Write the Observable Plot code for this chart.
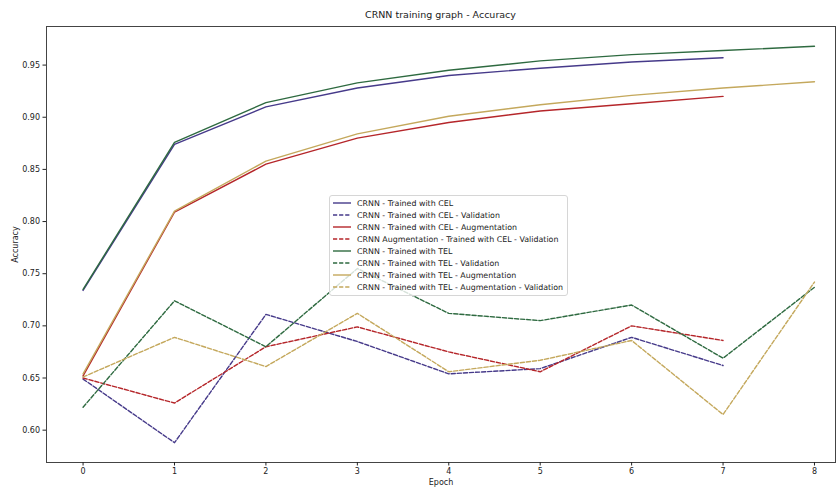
<!DOCTYPE html>
<html>
<head>
<meta charset="utf-8">
<script src="https://cdn.jsdelivr.net/npm/d3@7"></script>
<script src="https://cdn.jsdelivr.net/npm/@observablehq/plot@0.6"></script>
<style>
  html, body { margin: 0; padding: 0; background: #fff; }
  body { font-family: "DejaVu Sans", sans-serif; }
  #wrap { position: relative; width: 839px; height: 487px; overflow: hidden; }
  #title { position: absolute; left: 46px; width: 789px; top: 9px; text-align: center; font-size: 9.5px; color: #222; }
  #legend { position: absolute; left: 329px; top: 195px; padding: 1px 4px 2px 3px; background: rgba(255,255,255,0.8);
            border: 1px solid #d6d6d6; border-radius: 3px; font-size: 7.9px; color: #222; }
  .row { display: flex; align-items: center; height: 12.05px; white-space: nowrap; }
  .row svg { margin-right: 6px; }
</style>
</head>
<body>
<div id="wrap"></div>
<script>
const epochs = [0, 1, 2, 3, 4, 5, 6, 7, 8];
const seriesNames = [
  "CRNN - Trained with CEL",
  "CRNN - Trained with CEL - Validation",
  "CRNN - Trained with CEL - Augmentation",
  "CRNN Augmentation - Trained with CEL - Validation",
  "CRNN - Trained with TEL",
  "CRNN - Trained with TEL - Validation",
  "CRNN - Trained with TEL - Augmentation",
  "CRNN - Trained with TEL - Augmentation - Validation"
];
const seriesColors = ["#463a8a", "#463a8a", "#b5262a", "#b5262a", "#2e6a40", "#2e6a40", "#c4a85c", "#c4a85c"];
const seriesDashed = [false, true, false, true, false, true, false, true];

const celTrain      = [0.734, 0.874, 0.910, 0.928, 0.940, 0.947, 0.953, 0.957];
const celVal        = [0.649, 0.588, 0.711, 0.685, 0.654, 0.659, 0.689, 0.662];
const celAugTrain   = [0.652, 0.809, 0.855, 0.880, 0.895, 0.906, 0.913, 0.920];
const celAugVal     = [0.650, 0.626, 0.680, 0.699, 0.675, 0.656, 0.700, 0.686];
const telTrain      = [0.735, 0.876, 0.914, 0.933, 0.945, 0.954, 0.960, 0.964, 0.968];
const telVal        = [0.622, 0.724, 0.680, 0.755, 0.712, 0.705, 0.720, 0.669, 0.737];
const telAugTrain   = [0.654, 0.810, 0.858, 0.884, 0.901, 0.912, 0.921, 0.928, 0.934];
const telAugVal     = [0.651, 0.689, 0.661, 0.712, 0.656, 0.667, 0.686, 0.615, 0.742];

const yTicks = [0.60, 0.65, 0.70, 0.75, 0.80, 0.85, 0.90, 0.95];
const xTicks = [0, 1, 2, 3, 4, 5, 6, 7, 8];

const allValues = [celTrain, celVal, celAugTrain, celAugVal, telTrain, telVal, telAugTrain, telAugVal];
const table = [];
allValues.forEach((vals, i) => vals.forEach((v, j) => table.push({series: seriesNames[i], epoch: epochs[j], acc: v})));

const lineMarks = seriesNames.map((name, i) =>
  Plot.line(table.filter(d => d.series === name), {
    x: "epoch", y: "acc", stroke: "series",
    strokeWidth: 1.4,
    strokeDasharray: seriesDashed[i] ? "4.2,1.9" : null
  })
);

const chart = Plot.plot({
  width: 839,
  height: 487,
  marginLeft: 46,
  marginRight: 4,
  marginTop: 26,
  marginBottom: 25,
  style: { fontFamily: "DejaVu Sans, sans-serif", fontSize: "8px", color: "#222", background: "#fff" },
  x: { domain: [-0.4, 8.23] },
  y: { domain: [0.569, 0.987] },
  color: { domain: seriesNames, range: seriesColors },
  marks: [
    ...lineMarks,
    Plot.frame({ stroke: "#444", strokeWidth: 1 }),
    Plot.axisY({ ticks: yTicks, tickFormat: d3.format(".2f"), tickSize: 3.5, tickPadding: 3,
                 label: "Accuracy", labelAnchor: "center", labelArrow: "none", labelOffset: 34 }),
    Plot.axisX({ ticks: xTicks, tickFormat: d3.format("d"), tickSize: 3.5, tickPadding: 2,
                 label: "Epoch", labelAnchor: "center", labelArrow: "none", labelOffset: 22 })
  ]
});

const wrap = document.getElementById("wrap");
wrap.appendChild(chart);

const title = document.createElement("div");
title.id = "title";
title.textContent = "CRNN training graph - Accuracy";
wrap.appendChild(title);

const legend = document.createElement("div");
legend.id = "legend";
seriesNames.forEach((name, i) => {
  const row = document.createElement("div");
  row.className = "row";
  const dash = seriesDashed[i] ? ' stroke-dasharray="4.2,1.9"' : "";
  row.innerHTML = `<svg width="18" height="6"><line x1="0" y1="3" x2="18" y2="3" stroke="${seriesColors[i]}" stroke-width="1.4"${dash}/></svg><span>${name}</span>`;
  legend.appendChild(row);
});
wrap.appendChild(legend);
</script>
</body>
</html>
